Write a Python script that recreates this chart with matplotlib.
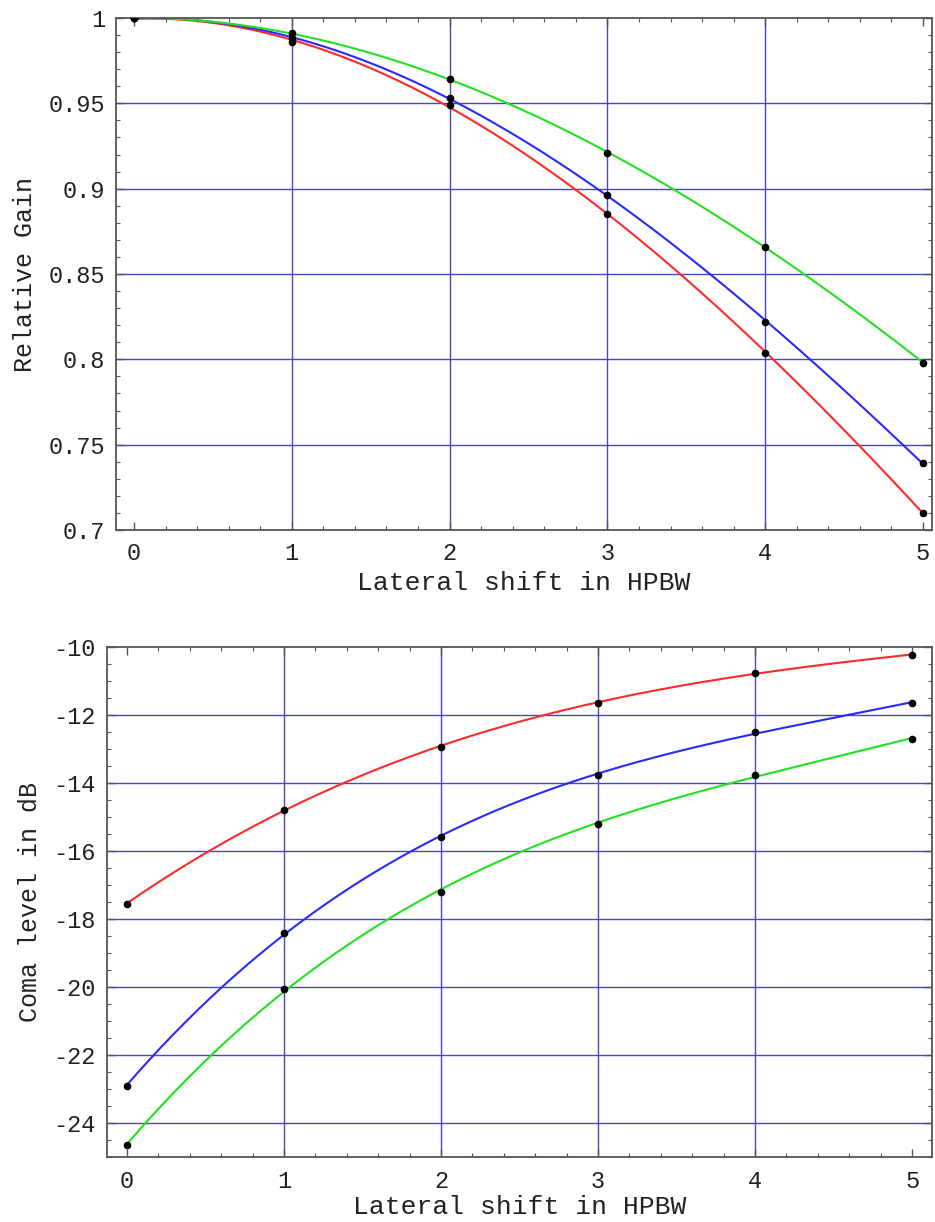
import numpy as np
import matplotlib
matplotlib.use("Agg")
import matplotlib.pyplot as plt
from matplotlib.ticker import MultipleLocator, FixedLocator

plt.rcParams['font.family'] = ['Liberation Mono', 'DejaVu Sans Mono']

# lateral shift of the feed, in HPBW
shift = [0, 1, 2, 3, 4, 5]

# relative gain vs shift
gain_red = [1.0, 0.986, 0.949, 0.885, 0.804, 0.710]
gain_blue = [1.0, 0.988, 0.953, 0.8965, 0.822, 0.739]
gain_green = [1.0, 0.991, 0.964, 0.921, 0.866, 0.798]

# coma lobe level vs shift
coma_red = [-17.55, -14.78, -12.93, -11.64, -10.76, -10.23]
coma_blue = [-22.9, -18.4, -15.6, -13.75, -12.5, -11.64]
coma_green = [-24.65, -20.05, -17.2, -15.2, -13.75, -12.7]

gain_yticks = [0.7, 0.75, 0.8, 0.85, 0.9, 0.95, 1.0]
gain_ylabels = ["0.7", "0.75", "0.8", "0.85", "0.9", "0.95", "1"]
coma_yticks = [-24, -22, -20, -18, -16, -14, -12, -10]

colors = {'red': '#ff2a2a', 'blue': '#2a2aff', 'green': '#22e022'}
grid_color = '#4646c8'
text_color = '#222222'


def smooth(x, y, deg=3):
    coef = np.polyfit(x, y, deg)
    xs = np.linspace(min(x), max(x), 200)
    return xs, np.polyval(coef, xs)


def style_axes(ax):
    for sp in ax.spines.values():
        sp.set_color('#555555')
        sp.set_linewidth(1.3)
    ax.tick_params(which='both', direction='in', top=True, right=True,
                   colors='#555555', labelcolor=text_color, labelsize=17)
    ax.tick_params(which='major', length=6, width=1.0)
    ax.tick_params(which='minor', length=3, width=0.8)
    ax.tick_params(axis='x', pad=9)
    ax.tick_params(axis='y', pad=8)


fig = plt.figure(figsize=(9.35, 12.22), dpi=100)

# --- relative gain ---
ax1 = fig.add_axes([116 / 935, 1 - 530 / 1222, 816 / 935, 512 / 1222])
for xv in [1, 2, 3, 4]:
    ax1.axvline(xv, color=grid_color, lw=1.0, zorder=1)
for yv in [0.75, 0.8, 0.85, 0.9, 0.95]:
    ax1.axhline(yv, color=grid_color, lw=1.0, zorder=1)
for name, vals in [('red', gain_red), ('blue', gain_blue), ('green', gain_green)]:
    xs, ys = smooth(shift, vals)
    ax1.plot(xs, ys, color=colors[name], lw=1.5, zorder=2)
    ax1.plot(shift, vals, 'o', color='black', ms=4.5, zorder=3)
ax1.set_xlim(-0.114, 5.057)
ax1.set_ylim(0.7, 1.0)
ax1.set_xticks(shift)
ax1.xaxis.set_minor_locator(MultipleLocator(0.2))
ax1.set_yticks(gain_yticks)
ax1.set_yticklabels(gain_ylabels)
ax1.yaxis.set_minor_locator(MultipleLocator(0.01))
style_axes(ax1)
ax1.set_xlabel("Lateral shift in HPBW", fontsize=19, color=text_color, labelpad=4)
ax1.set_ylabel("Relative Gain", fontsize=18, color=text_color, labelpad=8)

# --- coma level ---
ax2 = fig.add_axes([107 / 935, 1 - 1157 / 1222, 825 / 935, 510 / 1222])
for xv in [1, 2, 3, 4]:
    ax2.axvline(xv, color=grid_color, lw=1.0, zorder=1)
for yv in coma_yticks[:-1]:
    ax2.axhline(yv, color=grid_color, lw=1.0, zorder=1)
for name, vals in [('red', coma_red), ('blue', coma_blue), ('green', coma_green)]:
    xs, ys = smooth(shift, vals)
    ax2.plot(xs, ys, color=colors[name], lw=1.5, zorder=2)
    ax2.plot(shift, vals, 'o', color='black', ms=4.5, zorder=3)
ax2.set_xlim(-0.127, 5.127)
ax2.set_ylim(-25, -10)
ax2.set_xticks(shift)
ax2.xaxis.set_minor_locator(MultipleLocator(0.2))
ax2.yaxis.set_major_locator(FixedLocator(coma_yticks))
ax2.set_yticklabels([str(v) for v in coma_yticks])
ax2.yaxis.set_minor_locator(MultipleLocator(0.5))
style_axes(ax2)
ax2.set_xlabel("Lateral shift in HPBW", fontsize=19, color=text_color, labelpad=2)
ax2.set_ylabel("Coma level in dB", fontsize=18, color=text_color, labelpad=8)

fig.savefig("out.png", dpi=100)
